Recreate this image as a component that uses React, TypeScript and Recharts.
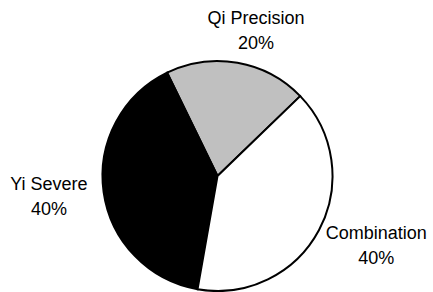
import React from "react";
import { PieChart, Pie, Cell } from "recharts";

const names = ["Qi Precision", "Yi Severe", "Combination"];
const shares = [20, 40, 40];
const fills = ["#c0c0c0", "#000000", "#ffffff"];

const data = names.map((name, i) => ({ name, value: shares[i] }));

const RAD = Math.PI / 180;

// label box sits just outside the rim, pushed out by half its own size
function renderLabel(props: any) {
    const { cx, cy, midAngle, outerRadius, name, value } = props;
    const cos = Math.cos(midAngle * RAD);
    const sin = Math.sin(midAngle * RAD);
    const r = outerRadius + 8;
    const w = String(name).length * 8.7;
    const h = 50;
    const x = cx + r * cos + (cos * w) / 2 + Math.sign(cos) * 8;
    const y = cy - r * sin - (sin * h) / 2;
    return (
        <text
            x={x}
            y={y}
            textAnchor="middle"
            fontSize={18}
            fontFamily="'Liberation Sans', Arial, sans-serif"
            fill="#000"
        >
            <tspan x={x} y={y - 12.5} dominantBaseline="central">{name}</tspan>
            <tspan x={x} y={y + 12.5} dominantBaseline="central">{`${value}%`}</tspan>
        </text>
    );
}

export default function App() {
    return (
        <div style={{ position: "absolute", left: 0, top: 0, width: 433, height: 292, background: "#fff" }}>
            <PieChart width={433} height={292} margin={{ top: 0, right: 0, bottom: 0, left: 0 }}>
                <Pie
                    data={data}
                    dataKey="value"
                    nameKey="name"
                    cx={217.5}
                    cy={176}
                    outerRadius={115}
                    startAngle={44}
                    endAngle={404}
                    stroke="#000"
                    strokeWidth={2}
                    label={renderLabel}
                    labelLine={false}
                    isAnimationActive={false}
                >
                    {data.map((d, i) => (
                        <Cell key={d.name} fill={fills[i]} />
                    ))}
                </Pie>
            </PieChart>
        </div>
    );
}
